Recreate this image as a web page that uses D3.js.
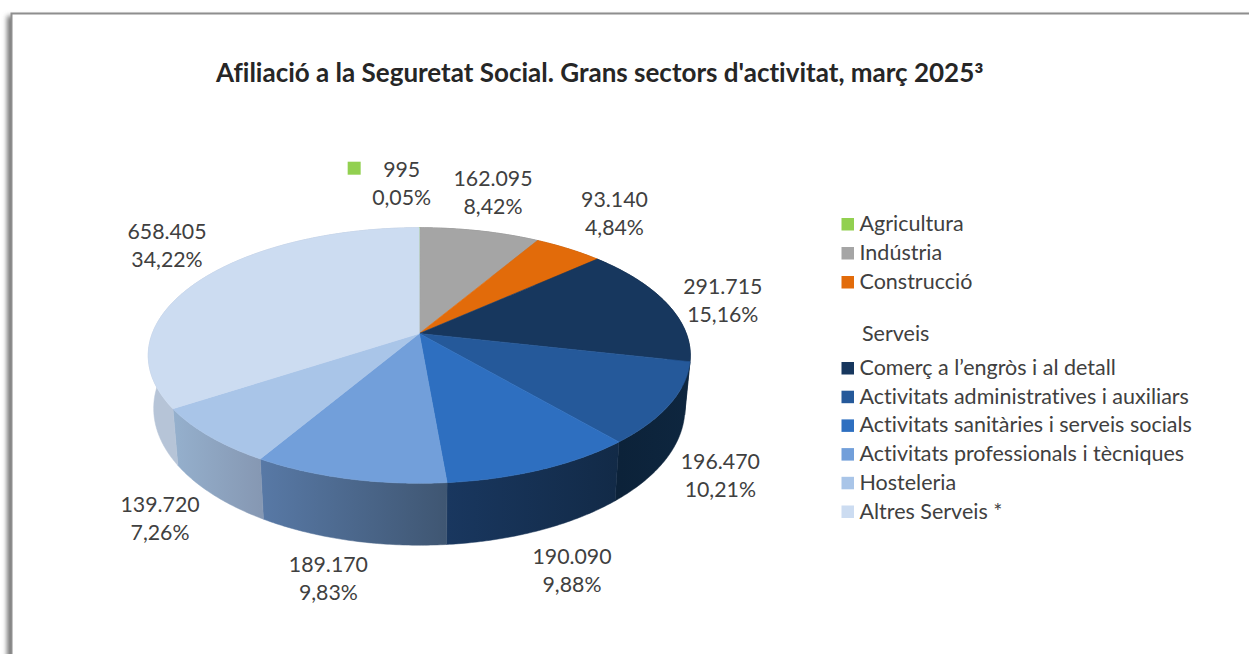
<!doctype html>
<html>
<head>
<meta charset="utf-8"/>
<title>Afiliació a la Seguretat Social</title>
<script src="https://d3js.org/d3.v7.min.js"></script>
<style>
body{margin:0;background:#fff;overflow:hidden;}
text{font-family:Lato,"Open Sans",sans-serif;font-variant-ligatures:none;}
</style>
</head>
<body>
<script>
// dades
var sectors = ["Agricultura","Indústria","Construcció","Comerç a l’engròs i al detall","Activitats administratives i auxiliars","Activitats sanitàries i serveis socials","Activitats professionals i tècniques","Hosteleria","Altres Serveis *"];
var afiliats = [995,162095,93140,291715,196470,190090,189170,139720,658405];
var etiquetesValor = ["995","162.095","93.140","291.715","196.470","190.090","189.170","139.720","658.405"];
var etiquetesPct = ["0,05%","8,42%","4,84%","15,16%","10,21%","9,88%","9,83%","7,26%","34,22%"];

// estil
var colors = ["#92d050","#a5a5a5","#e26b0a","#17375e","#25599a","#2e6fc0","#729fda","#a9c5e8","#ccdcf1"];
var colorsParet = [["#92d050","#92d050"],["#777","#777"],["#a04c07","#a04c07"],["#0b2139","#0b2139"],["#0c2239","#0e263f"],["#19375f","#122a47"],["#5879a6","#3f5672"],["#95b0cd","#8698b3"],["#b6c4d7","#a9b8cc"]];
var despl = [[-18,-44],[13,-38],[46,-35],[56,-3],[50,72],[30,101],[-20,100],[-49,82],[-35,-34]];

var svg = d3.select("body").append("svg").attr("width",1249).attr("height",654);
var defs = svg.append("defs");
defs.append("filter").attr("id","ombra").attr("x","-5%").attr("width","110%")
  .append("feGaussianBlur").attr("stdDeviation",2.5);

// marc
svg.append("rect").attr("x",7).attr("y",16).attr("width",1300).attr("height",700)
  .attr("fill","#777").attr("filter","url(#ombra)");
svg.append("rect").attr("x",11.5).attr("y",13.5).attr("width",1300).attr("height",700)
  .attr("fill","#fff").attr("stroke","#8e8e8e").attr("stroke-width",2);

var titol = svg.append("text").attr("x",216).attr("y",81.5).attr("font-size",26).attr("font-weight",700)
  .attr("fill","#262626").text("Afiliació a la Seguretat Social. Grans sectors d'activitat, març 2025");
titol.append("tspan").attr("font-size",28).attr("dy",4.5).text("³");

// projecció amb perspectiva del disc (angle des de dalt, horari)
var cx = 419.3, cy = 333.5, a = 267, b = 124, k = 0.172, gruix = 51.3, escalaBase = 0.98;
function punt(t){
  var u = Math.cos(t), v = Math.sin(t), w = 1 + k*u;
  return [cx + a*v/w, cy - b*u/w];
}
function puntBase(t){
  var u = Math.cos(t), v = Math.sin(t), w = 1 + k*u;
  return [cx + escalaBase*a*v/w, cy - b*u/w + gruix/w];
}
var linia = d3.line();
function arc(f, t0, t1){
  var n = Math.max(2, Math.ceil((t1-t0)/0.01));
  return d3.range(n+1).map(function(i){ return f(t0 + (t1-t0)*i/n); });
}

var pie = d3.pie().sort(null).startAngle(0).endAngle(2*Math.PI);
var llesques = pie(afiliats);

// parets laterals
var grups = svg.append("g");
llesques.forEach(function(d,i){
  var p0 = punt(d.startAngle), p1 = punt(d.endAngle);
  var id = "paret"+i;
  var g = defs.append("linearGradient").attr("id",id).attr("gradientUnits","userSpaceOnUse")
    .attr("x1",Math.min(p0[0],p1[0])).attr("x2",Math.max(p0[0],p1[0])).attr("y1",0).attr("y2",0);
  g.append("stop").attr("offset",0).attr("stop-color",colorsParet[i][0]);
  g.append("stop").attr("offset",1).attr("stop-color",colorsParet[i][1]);
  var pts = arc(punt,d.startAngle,d.endAngle).concat(arc(puntBase,d.startAngle,d.endAngle).reverse());
  grups.append("path").attr("d",linia(pts)+"Z").attr("fill","url(#"+id+")")
    .attr("stroke","url(#"+id+")").attr("stroke-width",0.5);
});

// cara superior
llesques.forEach(function(d,i){
  var pts = [[cx,cy]].concat(arc(punt,d.startAngle,d.endAngle));
  grups.append("path").attr("d",linia(pts)+"Z").attr("fill",colors[i])
    .attr("stroke",colors[i]).attr("stroke-width",0.6);
});

// etiquetes
llesques.forEach(function(d,i){
  var p = punt((d.startAngle+d.endAngle)/2);
  var x = p[0]+despl[i][0], y = p[1]+despl[i][1];
  var t = svg.append("text").attr("text-anchor","middle").attr("font-size",21.3).attr("fill","#404040");
  t.append("tspan").attr("x",x).attr("y",y-6.5).text(etiquetesValor[i]);
  t.append("tspan").attr("x",x).attr("y",y+21.5).text(etiquetesPct[i]);
  if(i==0){
    svg.append("rect").attr("x",x-54).attr("y",y-22).attr("width",13).attr("height",13).attr("fill",colors[0]);
  }
});

// llegenda
var filaY = d3.scaleLinear().domain([0,1]).range([224,253]);
var filaServeis = d3.scaleLinear().domain([3,4]).range([368,396.7]);
sectors.forEach(function(s,i){
  var y = i<3 ? filaY(i) : filaServeis(i);
  svg.append("rect").attr("x",841.5).attr("y",y-6).attr("width",12.5).attr("height",12.5).attr("fill",colors[i]);
  svg.append("text").attr("x",859.5).attr("y",y+7).attr("font-size",21.5).attr("fill","#404040").text(s);
});
svg.append("text").attr("x",862).attr("y",341).attr("font-size",21.5).attr("fill","#404040").text("Serveis");
</script>
</body>
</html>
